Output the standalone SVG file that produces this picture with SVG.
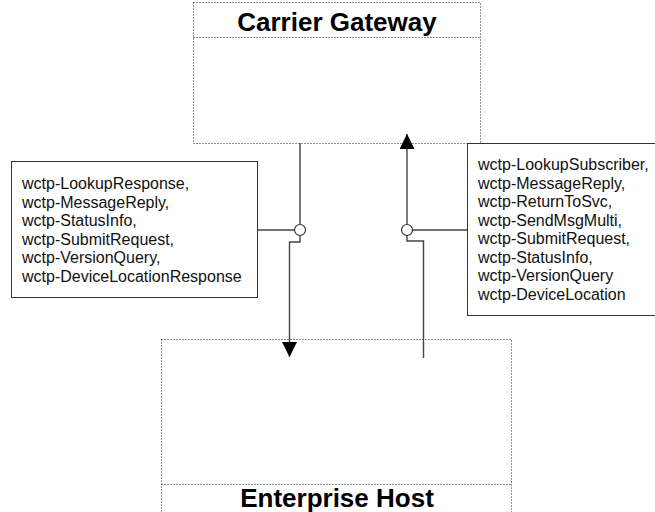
<svg xmlns="http://www.w3.org/2000/svg" width="655" height="512" viewBox="0 0 655 512">
<style>
.dot{fill:none;stroke:#222;stroke-width:1;stroke-dasharray:1 2}
.box{fill:#fff;stroke:#333;stroke-width:1}
.ln{fill:none;stroke:#444;stroke-width:1.4}
.circ{fill:#fff;stroke:#333;stroke-width:1.2}
.title{font-family:"Liberation Sans",Arial,sans-serif;font-weight:bold;font-size:26px;fill:#000}
.lbl{font-family:"Liberation Sans",Arial,sans-serif;font-size:16px;fill:#111}
</style>
<defs>
<marker id="arr" markerWidth="16" markerHeight="16" refX="15" refY="7.5" orient="auto" markerUnits="userSpaceOnUse">
<path d="M0,0 L15,7.5 L0,15 Z" fill="#000"/>
</marker>
</defs>
<rect width="655" height="512" fill="#fff"/>
<g id="carrier-gateway">
<rect class="dot" x="193.5" y="2.5" width="287" height="141"/>
<line class="dot" x1="193.5" y1="37.5" x2="480.5" y2="37.5"/>
<text class="title" x="337" y="31" text-anchor="middle">Carrier Gateway</text>
</g>
<g id="enterprise-host">
<rect class="dot" x="161.5" y="339.5" width="350" height="180"/>
<line class="dot" x1="161.5" y1="484.5" x2="511.5" y2="484.5"/>
<text class="title" x="337" y="507" text-anchor="middle">Enterprise Host</text>
</g>
<g id="left-messages">
<rect class="box" x="11.5" y="161.5" width="246" height="136"/>
<text class="lbl" x="22">
<tspan x="22" y="189">wctp-LookupResponse,</tspan>
<tspan x="22" y="207.5">wctp-MessageReply,</tspan>
<tspan x="22" y="226">wctp-StatusInfo,</tspan>
<tspan x="22" y="244.5">wctp-SubmitRequest,</tspan>
<tspan x="22" y="263">wctp-VersionQuery,</tspan>
<tspan x="22" y="281.5">wctp-DeviceLocationResponse</tspan>
</text>
</g>
<g id="right-messages">
<rect class="box" x="467.5" y="143.5" width="200" height="172"/>
<text class="lbl" x="478">
<tspan x="478" y="170">wctp-LookupSubscriber,</tspan>
<tspan x="478" y="188.5">wctp-MessageReply,</tspan>
<tspan x="478" y="207">wctp-ReturnToSvc,</tspan>
<tspan x="478" y="225.5">wctp-SendMsgMulti,</tspan>
<tspan x="478" y="244">wctp-SubmitRequest,</tspan>
<tspan x="478" y="262.5">wctp-StatusInfo,</tspan>
<tspan x="478" y="281">wctp-VersionQuery</tspan>
<tspan x="478" y="299.5">wctp-DeviceLocation</tspan>
</text>
</g>
<g id="connectors">
<polyline class="ln" points="300,143 300,242 289.5,242 289.5,357" marker-end="url(#arr)"/>
<line class="ln" x1="257.5" y1="230" x2="294.5" y2="230"/>
<circle class="circ" cx="300" cy="230" r="5.5"/>
<polyline class="ln" points="423.5,358 423.5,241 407,241 407,134" marker-end="url(#arr)"/>
<line class="ln" x1="412.5" y1="230" x2="467.5" y2="230"/>
<circle class="circ" cx="407" cy="230" r="5.5"/>
</g>
</svg>
